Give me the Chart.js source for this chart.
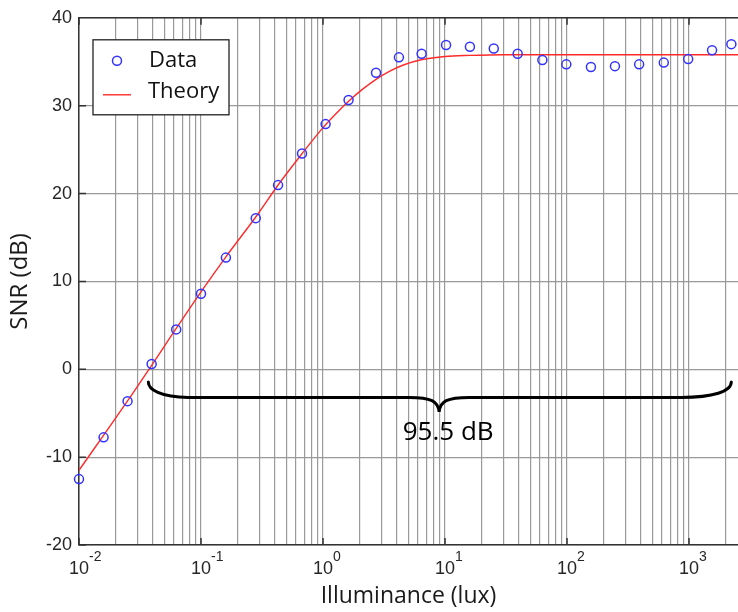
<!DOCTYPE html>
<html>
<head>
<meta charset="utf-8">
<title>SNR vs illuminance</title>
<script src="https://cdn.jsdelivr.net/npm/chart.js@4.4.1/dist/chart.umd.min.js"></script>
<style>
  html, body { margin: 0; padding: 0; background: #fff; overflow: hidden; }
  canvas { display: block; }
</style>
</head>
<body>
<canvas id="Chart" width="738" height="612"></canvas>
<script>
const dataLux = [0.01, 0.0159, 0.025, 0.0394, 0.0626, 0.1, 0.16, 0.281, 0.428, 0.673,
  1.05, 1.62, 2.72, 4.19, 6.43, 10.2, 16.0, 25.1, 39.4, 62.8,
  98.7, 157, 247, 390, 621, 984, 1545, 2223];
const dataSnr = [-12.5, -7.75, -3.63, 0.6, 4.54, 8.59, 12.71, 17.2, 20.96, 24.55,
  27.9, 30.65, 33.75, 35.5, 35.9, 36.9, 36.7, 36.5, 35.9, 35.2,
  34.7, 34.4, 34.5, 34.7, 34.9, 35.3, 36.3, 37.0];

// theory curve, sampled off the red line
const theoryLux = [0.01, 0.025, 0.1, 0.16, 0.28, 0.43, 0.67, 1.0, 1.3, 1.62,
  2.1, 2.72, 3.5, 4.5, 6.5, 10, 16, 30, 100, 1000, 2520];
const theorySnr = [-11.5, -3.6, 8.8, 12.8, 17.3, 21.0, 24.5, 27.5, 29.2, 30.5,
  31.85, 33.0, 33.9, 34.6, 35.25, 35.6, 35.72, 35.8, 35.8, 35.8, 35.8];

const decades = [0.01, 0.1, 1, 10, 100, 1000];
const exponents = ["-2", "-1", "0", "1", "2", "3"];
const yTicks = [-20, -10, 0, 10, 20, 30, 40];
const xRange = [0.01, 2520];
const yRange = [-20, 40];

// brace: left end, tip, right end (lux) / end level, bar level, tip level (dB)
const braceLux = [0.037, 8.95, 2220];
const braceSnr = [-1.45, -3.2, -4.85];
const braceText = "95.5 dB";

const tickFont = "'Liberation Sans', Arial, sans-serif";
const textFont = "'Open Sans', 'Noto Sans', sans-serif";

const extras = {
  id: "extras",
  beforeDraw(chart) {
    const ctx = chart.ctx;
    ctx.save();
    ctx.fillStyle = "#fff";
    ctx.fillRect(0, 0, chart.width, chart.height);
    ctx.restore();
  },
  afterDraw(chart) {
    const {ctx, chartArea: a, scales: {x, y}} = chart;
    ctx.save();

    // top frame + inward tick marks
    ctx.strokeStyle = "#333";
    ctx.lineWidth = 1.5;
    ctx.beginPath();
    ctx.moveTo(a.left, a.top);
    ctx.lineTo(a.right, a.top);
    yTicks.forEach(v => {
      const py = y.getPixelForValue(v);
      ctx.moveTo(a.left, py);
      ctx.lineTo(a.left + 7, py);
    });
    decades.forEach(v => {
      const px = x.getPixelForValue(v);
      ctx.moveTo(px, a.bottom);
      ctx.lineTo(px, a.bottom - 7);
      ctx.moveTo(px, a.top);
      ctx.lineTo(px, a.top + 7);
    });
    ctx.stroke();

    // exponents of the decade labels
    ctx.fillStyle = "#262626";
    ctx.font = "14px " + tickFont;
    ctx.textAlign = "left";
    ctx.textBaseline = "alphabetic";
    decades.forEach((v, i) => {
      ctx.fillText(exponents[i], x.getPixelForValue(v) + 10, a.bottom + 16);
    });

    // legend box
    const lx = a.left + 14, ly = a.top + 22;
    ctx.fillStyle = "#fff";
    ctx.fillRect(lx, ly, 136, 75);
    ctx.strokeStyle = "#222";
    ctx.lineWidth = 1.3;
    ctx.strokeRect(lx, ly, 136, 75);
    const ds = chart.data.datasets;
    ctx.strokeStyle = ds[0].borderColor;
    ctx.lineWidth = ds[0].borderWidth;
    ctx.beginPath();
    ctx.arc(lx + 24, ly + 21, 4.5, 0, Math.PI * 2);
    ctx.stroke();
    ctx.strokeStyle = ds[1].borderColor;
    ctx.lineWidth = ds[1].borderWidth;
    ctx.beginPath();
    ctx.moveTo(lx + 10, ly + 55);
    ctx.lineTo(lx + 38, ly + 55);
    ctx.stroke();
    ctx.fillStyle = "#111";
    ctx.font = "22px " + textFont;
    ctx.textBaseline = "alphabetic";
    ctx.fillText(ds[0].label, lx + 56, ly + 27);
    ctx.fillText(ds[1].label, lx + 55, ly + 58);

    // curly brace
    const L = x.getPixelForValue(braceLux[0]);
    const T = x.getPixelForValue(braceLux[1]);
    const R = x.getPixelForValue(braceLux[2]);
    const yEnd = y.getPixelForValue(braceSnr[0]);
    const yBar = y.getPixelForValue(braceSnr[1]);
    const yTip = y.getPixelForValue(braceSnr[2]);
    ctx.strokeStyle = "#000";
    ctx.lineWidth = 3;
    ctx.lineCap = "round";
    ctx.beginPath();
    ctx.moveTo(L, yEnd);
    ctx.bezierCurveTo(L, yBar - 8, L + 12, yBar, L + 40, yBar);
    ctx.lineTo(T - 30, yBar);
    ctx.bezierCurveTo(T - 8, yBar, T - 1, yBar + 4, T, yTip);
    ctx.bezierCurveTo(T + 1, yBar + 4, T + 8, yBar, T + 30, yBar);
    ctx.lineTo(R - 50, yBar);
    ctx.bezierCurveTo(R - 18, yBar, R, yBar - 6, R, yEnd);
    ctx.stroke();
    ctx.fillStyle = "#000";
    ctx.font = "26px " + textFont;
    ctx.textAlign = "center";
    ctx.fillText(braceText, T + 9, yTip + 28);

    ctx.restore();
  }
};

new Chart("Chart", {
  type: "scatter",
  data: {
    datasets: [{
      label: "Data",
      data: dataLux.map((v, i) => ({x: v, y: dataSnr[i]})),
      showLine: false,
      pointStyle: "circle",
      pointRadius: 4.5,
      pointHoverRadius: 4.5,
      borderWidth: 1.5,
      borderColor: "#3333ff",
      backgroundColor: "rgba(0,0,0,0)",
      clip: false
    }, {
      label: "Theory",
      data: theoryLux.map((v, i) => ({x: v, y: theorySnr[i]})),
      showLine: true,
      pointRadius: 0,
      borderWidth: 1.4,
      borderColor: "#ff2a2a",
      backgroundColor: "rgba(0,0,0,0)",
      cubicInterpolationMode: "monotone",
      clip: false
    }]
  },
  options: {
    responsive: false,
    animation: false,
    devicePixelRatio: 1,
    layout: {autoPadding: false, padding: {top: 17, right: 0, bottom: 0, left: 0}},
    plugins: {
      legend: {display: false},
      tooltip: {enabled: false}
    },
    scales: {
      x: {
        type: "logarithmic",
        min: xRange[0],
        max: xRange[1],
        afterBuildTicks: scale => {
          const ticks = [];
          decades.forEach(d => {
            for (let m = 1; m < 10; m++) {
              if (d * m <= xRange[1] * 1.0001) ticks.push({value: d * m});
            }
          });
          scale.ticks = ticks;
        },
        afterFit: scale => {
          scale.height = 67;
          scale.paddingRight = 0;
          scale.paddingLeft = 0;
        },
        grid: {color: "#999", lineWidth: 1.2, drawTicks: false},
        border: {display: true, color: "#333", width: 1.5},
        ticks: {
          autoSkip: false,
          maxRotation: 0,
          padding: 13,
          color: "#262626",
          font: {family: tickFont, size: 18},
          callback: v => decades.some(d => Math.abs(d - v) < d * 1e-6) ? "10" : ""
        },
        title: {
          display: true,
          text: "Illuminance (lux)",
          color: "#1a1a1a",
          font: {family: textFont, size: 23},
          padding: {top: 0, bottom: 2}
        }
      },
      y: {
        min: yRange[0],
        max: yRange[1],
        afterBuildTicks: scale => { scale.ticks = yTicks.map(v => ({value: v})); },
        afterFit: scale => { scale.width = 79; },
        grid: {color: "#999", lineWidth: 1.2, drawTicks: false},
        border: {display: true, color: "#333", width: 1.5},
        ticks: {
          padding: 7,
          color: "#262626",
          font: {family: tickFont, size: 18}
        },
        title: {
          display: true,
          text: "SNR (dB)",
          color: "#1a1a1a",
          font: {family: textFont, size: 24},
          padding: {top: 6, bottom: 0}
        }
      }
    }
  },
  plugins: [extras]
});
</script>
</body>
</html>
